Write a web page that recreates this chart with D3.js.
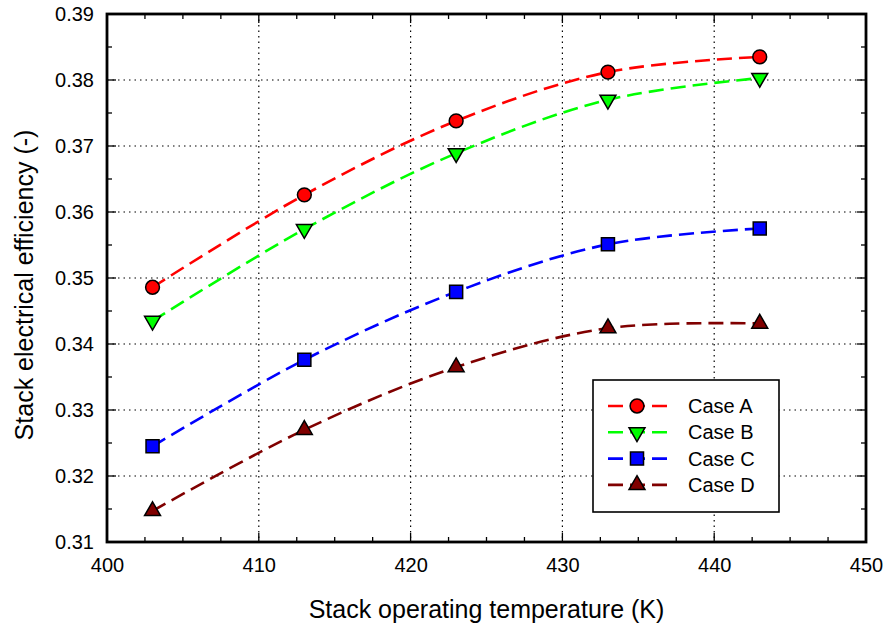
<!DOCTYPE html>
<html>
<head>
<meta charset="utf-8">
<script src="https://cdn.jsdelivr.net/npm/d3@7"></script>
<style>
  body { margin: 0; background: #fff; }
  text { font-family: "Liberation Sans", Arial, sans-serif; fill: #000; }
</style>
</head>
<body>
<svg id="chart" width="883" height="628"></svg>
<script>
// data
const temps = [403, 413, 423, 433, 443];
const caseA = [0.3486, 0.3626, 0.3738, 0.3812, 0.3835];
const caseB = [0.3435, 0.3574, 0.3689, 0.3770, 0.3803];
const caseC = [0.3245, 0.3376, 0.3479, 0.3551, 0.3575];
const caseD = [0.3147, 0.3270, 0.3365, 0.3424, 0.3431];
const seriesNames = ["Case A", "Case B", "Case C", "Case D"];
const xTicks = [400, 410, 420, 430, 440, 450];
const yTicks = [0.31, 0.32, 0.33, 0.34, 0.35, 0.36, 0.37, 0.38, 0.39];

const series = [
  {name: seriesNames[0], values: caseA, color: "#ff0000", sym: d3.symbolCircle, size: 150, rot: 0},
  {name: seriesNames[1], values: caseB, color: "#00ff00", sym: d3.symbolTriangle, size: 110, rot: 180},
  {name: seriesNames[2], values: caseC, color: "#0000ff", sym: d3.symbolSquare, size: 170, rot: 0},
  {name: seriesNames[3], values: caseD, color: "#800000", sym: d3.symbolTriangle, size: 110, rot: 0}
];

const svg = d3.select("#chart");
const margin = {top: 14, right: 17, bottom: 86, left: 107};
const width = 883 - margin.left - margin.right,
      height = 628 - margin.top - margin.bottom;

const x = d3.scaleLinear().domain([400, 450]).range([0, width]);
const y = d3.scaleLinear().domain([0.31, 0.39]).range([height, 0]);

const g = svg.append("g")
  .attr("transform", `translate(${margin.left}, ${margin.top})`);

// dotted grid
g.append("g")
  .selectAll("line")
  .data(xTicks.slice(1, -1)).enter()
  .append("line")
    .attr("x1", d => x(d)).attr("x2", d => x(d))
    .attr("y1", 0).attr("y2", height)
    .style("stroke", "#000").style("stroke-width", 1.2)
    .style("stroke-dasharray", "1.5,4");
g.append("g")
  .selectAll("line")
  .data(yTicks.slice(1, -1)).enter()
  .append("line")
    .attr("x1", 0).attr("x2", width)
    .attr("y1", d => y(d)).attr("y2", d => y(d))
    .style("stroke", "#000").style("stroke-width", 1.2)
    .style("stroke-dasharray", "1.5,4");

// minor ticks on all sides, pointing inwards
const xMinor = d3.range(400, 450.1, 2.5);
const yMinor = d3.range(0.31, 0.3901, 0.005);
const tickG = g.append("g").style("stroke", "#000").style("stroke-width", 1.3);
xMinor.forEach(v => {
  const len = Math.abs(v % 10) < 1e-6 ? 9 : 5;
  tickG.append("line").attr("x1", x(v)).attr("x2", x(v)).attr("y1", height).attr("y2", height - len);
  tickG.append("line").attr("x1", x(v)).attr("x2", x(v)).attr("y1", 0).attr("y2", len);
});
yMinor.forEach((v, i) => {
  const len = i % 2 === 0 ? 9 : 5;
  tickG.append("line").attr("y1", y(v)).attr("y2", y(v)).attr("x1", 0).attr("x2", len);
  tickG.append("line").attr("y1", y(v)).attr("y2", y(v)).attr("x1", width).attr("x2", width - len);
});

// axes labels via d3 axes
const xAxis = g.append("g")
  .attr("transform", `translate(0, ${height})`)
  .call(d3.axisBottom(x).tickValues(xTicks).tickSize(0).tickPadding(0).tickFormat(d3.format("d")));
const yAxis = g.append("g")
  .call(d3.axisLeft(y).tickValues(yTicks).tickSize(0).tickPadding(13).tickFormat(d3.format(".2f")));
[xAxis, yAxis].forEach(a => {
  a.select(".domain").remove();
  a.selectAll("text").style("font-size", "20px").style("font-family", "Liberation Sans, Arial, sans-serif");
});
xAxis.selectAll("text").attr("y", 30).attr("dy", 0);

// frame
g.append("rect")
  .attr("width", width).attr("height", height)
  .style("fill", "none").style("stroke", "#000").style("stroke-width", 2.8);

// curves
const line = d3.line()
  .x((d, i) => x(temps[i]))
  .y(d => y(d))
  .curve(d3.curveCatmullRom.alpha(0.5));

series.forEach(s => {
  g.append("path")
    .attr("d", line(s.values))
    .style("fill", "none")
    .style("stroke", s.color)
    .style("stroke-width", 2.6)
    .style("stroke-dasharray", "15,7");
});

series.forEach(s => {
  g.selectAll(null)
    .data(s.values).enter()
    .append("path")
      .attr("d", d3.symbol().type(s.sym).size(s.size))
      .attr("transform", (d, i) => `translate(${x(temps[i])}, ${y(d)}) rotate(${s.rot})`)
      .style("fill", s.color)
      .style("stroke", "#000")
      .style("stroke-width", 1.5);
});

// legend
const lg = svg.append("g").attr("transform", "translate(593, 380)");
lg.append("rect")
  .attr("width", 186).attr("height", 132)
  .style("fill", "#fff").style("stroke", "#000").style("stroke-width", 1.6);
series.forEach((s, i) => {
  const yy = 26 + i * 26.3;
  lg.append("line")
    .attr("x1", 15).attr("x2", 74).attr("y1", yy).attr("y2", yy)
    .style("stroke", s.color).style("stroke-width", 2.6)
    .style("stroke-dasharray", "15,7");
  lg.append("path")
    .attr("d", d3.symbol().type(s.sym).size(s.size))
    .attr("transform", `translate(44, ${yy}) rotate(${s.rot})`)
    .style("fill", s.color).style("stroke", "#000").style("stroke-width", 1.5);
  lg.append("text")
    .attr("x", 95).attr("y", yy).attr("dy", "0.35em")
    .style("font-size", "20px")
    .text(s.name);
});

// axis titles
svg.append("text")
  .attr("x", margin.left + width / 2).attr("y", 618)
  .style("text-anchor", "middle").style("font-size", "25px")
  .text("Stack operating temperature (K)");
svg.append("text")
  .attr("transform", `translate(33, 285) rotate(-90)`)
  .style("text-anchor", "middle").style("font-size", "25px")
  .text("Stack electrical efficiency (-)");
</script>
</body>
</html>
